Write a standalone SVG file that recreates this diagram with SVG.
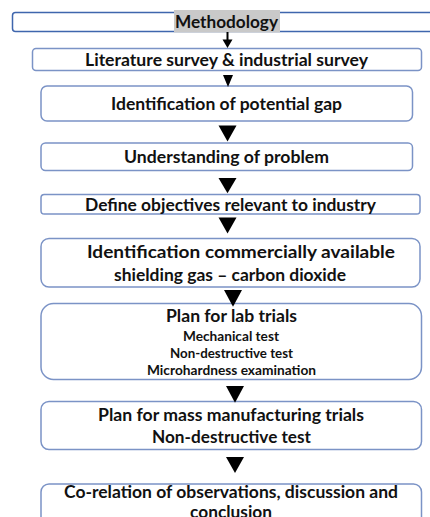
<svg xmlns="http://www.w3.org/2000/svg" xmlns:xlink="http://www.w3.org/1999/xlink" width="430" height="517" viewBox="0 0 430 517">
  <style>
    .box { fill: #ffffff; stroke: #7b93c6; stroke-width: 1.5; }
    .head { fill: #ffffff; stroke: #3f66ad; stroke-width: 1.5; }
    .t { font-family: Lato, "Open Sans", "Liberation Sans", sans-serif; font-weight: bold; fill: #111111; font-size: 16.5px; }
    .s { font-size: 13px; }
    .arrow { fill: #000000; }
  </style>
  <defs>
    <polygon id="tri" points="-9,0 9,0 0,16"/>
  </defs>
  <rect width="430" height="517" fill="#ffffff"/>

  <!-- title bar -->
  <g id="methodology">
    <rect class="head" x="12.5" y="12.5" width="440" height="19" rx="3"/>
    <rect x="174" y="10" width="106" height="22.5" fill="#c9c9c9"/>
    <text class="t" x="175" y="28" textLength="103" lengthAdjust="spacingAndGlyphs">Methodology</text>
  </g>

  <g id="survey">
    <rect class="box" x="32.5" y="48.5" width="389" height="22" rx="3.5"/>
    <text class="t" x="85" y="65.5" textLength="283" lengthAdjust="spacingAndGlyphs">Literature survey &amp; industrial survey</text>
  </g>

  <g id="gap">
    <rect class="box" x="41" y="86" width="371.5" height="35" rx="6"/>
    <text class="t" x="111" y="109.5" textLength="231" lengthAdjust="spacingAndGlyphs">Identification of potential gap</text>
  </g>

  <g id="problem">
    <rect class="box" x="41" y="143" width="371.5" height="27.5" rx="4.5"/>
    <text class="t" x="124" y="162.5" textLength="205" lengthAdjust="spacingAndGlyphs">Understanding of problem</text>
  </g>

  <g id="objectives">
    <rect class="box" x="41" y="194.5" width="379" height="19.5" rx="3.3"/>
    <text class="t" x="85" y="210.5" textLength="291" lengthAdjust="spacingAndGlyphs">Define objectives relevant to industry</text>
  </g>

  <g id="shielding-gas">
    <rect class="box" x="41" y="238.5" width="379" height="48.5" rx="8"/>
    <text class="t" x="87" y="257.5" textLength="308" lengthAdjust="spacingAndGlyphs">Identification commercially available</text>
    <text class="t" x="114" y="280.5" textLength="232" lengthAdjust="spacingAndGlyphs">shielding gas – carbon dioxide</text>
  </g>

  <g id="lab-trials">
    <rect class="box" x="41" y="303.5" width="380.5" height="76" rx="12.5"/>
    <text class="t" x="166" y="321.5" textLength="131" lengthAdjust="spacingAndGlyphs">Plan for lab trials</text>
    <text class="t s" x="183" y="341" textLength="96" lengthAdjust="spacingAndGlyphs">Mechanical test</text>
    <text class="t s" x="170" y="358" textLength="123" lengthAdjust="spacingAndGlyphs">Non-destructive test</text>
    <text class="t s" x="147" y="375" textLength="169" lengthAdjust="spacingAndGlyphs">Microhardness examination</text>
  </g>

  <g id="mass-trials">
    <rect class="box" x="41" y="401.5" width="380.5" height="48" rx="8"/>
    <text class="t" x="98" y="420.5" textLength="266" lengthAdjust="spacingAndGlyphs">Plan for mass manufacturing trials</text>
    <text class="t" x="152" y="442.5" textLength="159" lengthAdjust="spacingAndGlyphs">Non-destructive test</text>
  </g>

  <g id="conclusion">
    <rect class="box" x="41" y="484" width="380.5" height="48" rx="8"/>
    <text class="t" x="64" y="497.5" textLength="334" lengthAdjust="spacingAndGlyphs">Co-relation of observations, discussion and</text>
    <text class="t" x="190" y="518" textLength="82" lengthAdjust="spacingAndGlyphs">conclusion</text>
  </g>

  <!-- connectors -->
  <g id="connectors">
    <line x1="227.5" y1="32" x2="227.5" y2="41" stroke="#000000" stroke-width="2"/>
    <polygon class="arrow" points="222.5,39.5 232.5,39.5 227.5,48"/>
    <polygon class="arrow" points="223,75 233,75 228,87"/>
    <use xlink:href="#tri" class="arrow" transform="translate(227.5,125.5)"/>
    <use xlink:href="#tri" class="arrow" transform="translate(227.5,178) scale(1,0.95)"/>
    <use xlink:href="#tri" class="arrow" transform="translate(227.5,217.5)"/>
    <use xlink:href="#tri" class="arrow" transform="translate(233,290) scale(1,1.05)"/>
    <use xlink:href="#tri" class="arrow" transform="translate(235,386) scale(1,1.05)"/>
    <use xlink:href="#tri" class="arrow" transform="translate(235,457)"/>
  </g>
</svg>
